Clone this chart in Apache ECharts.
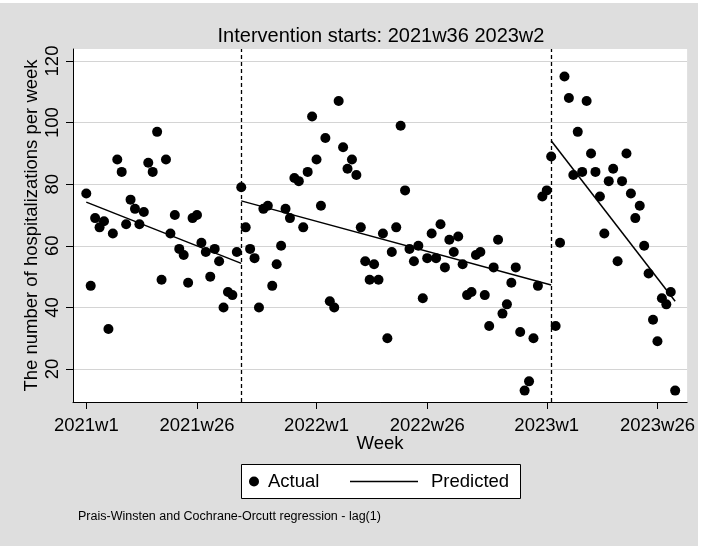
<!DOCTYPE html>
<html>
<head>
<meta charset="utf-8">
<script src="https://cdn.jsdelivr.net/npm/echarts@6/dist/echarts.min.js"></script>
<style>
  html, body { margin: 0; padding: 0; background: #ffffff; }
  #chart { position: absolute; left: 0; top: 3px; width: 698px; height: 543px; background: #dedede; }
</style>
</head>
<body>
<div id="chart"></div>
<script>
// weekly counts, index 0 = 2021w1 (Stata weeks: 52 per year)
const actual = [
  77, 47, 69, 66, 68, 33, 64, 88, 84, 67, 75, 72, 67, 71, 87, 84, 97, 49, 88, 64,
  70, 59, 57, 48, 69, 70, 61, 58, 50, 59, 55, 40, 45, 44, 58,
  79, 66, 59, 56, 40, 72, 73, 47, 54, 60, 72, 69, 82, 81, 66, 84, 102, 88, 73, 95,
  42, 40, 107, 92, 85, 88, 83, 66, 55, 49, 54, 49, 64, 30, 58, 66, 99, 78, 59, 55,
  60, 43, 56, 64, 56, 67, 53, 62, 58, 63, 54, 44, 45, 57, 58, 44, 34, 53, 62, 38,
  41, 48, 53, 32, 13, 16, 30, 47, 76, 78,
  89, 34, 61, 115, 108, 83, 97, 84, 107, 90, 84, 76, 64, 81, 85, 55, 81, 90, 77, 69,
  73, 60, 51, 36, 29, 43, 41, 45, 13
];

// fitted segments (start/end week index and value)
const predT1 = [0, 35],    predY1 = [74.2, 54.3];
const predT2 = [35, 105],  predY2 = [74.6, 47.3];
const predT3 = [105, 133], predY3 = [94.1, 42.0];

const interventions = [35, 105];              // 2021w36, 2023w2
const xTicks = [0, 25, 52, 77, 104, 129];     // 2021w1 ... 2023w26
const yTicks = [20, 40, 60, 80, 100, 120];

const FONT = 'Liberation Sans, Arial, Helvetica, sans-serif';

function weekLabel(t) {
  return (2021 + Math.floor(t / 52)) + 'w' + (t % 52 + 1);
}
function pairs(ts, ys) { return ts.map((t, i) => [t, ys[i]]); }

const chart = echarts.init(document.getElementById('chart'));

const predStyle = {
  type: 'line', name: 'Predicted', symbol: 'none', silent: true, z: 3,
  lineStyle: { color: '#000', width: 1.5 }, itemStyle: { color: '#000' }
};

chart.setOption({
  animation: false,
  backgroundColor: '#dedede',
  title: [
    {
      text: 'Intervention starts: 2021w36 2023w2',
      left: 381, top: 23, padding: 0, textAlign: 'center',
      textStyle: { fontFamily: FONT, fontSize: 20, fontWeight: 'normal', color: '#000' }
    },
    {
      text: 'Prais-Winsten and Cochrane-Orcutt regression - lag(1)',
      left: 78, top: 507, padding: 0,
      textStyle: { fontFamily: FONT, fontSize: 12.5, fontWeight: 'normal', color: '#000' }
    }
  ],
  graphic: [{
    type: 'rect', z: 1,
    shape: { x: 241.5, y: 461.5, width: 279, height: 34 },
    style: { fill: '#fff', stroke: '#000', lineWidth: 1 }
  }],
  legend: [
    {
      data: ['Actual'], left: 249, top: 469, padding: 0, z: 10,
      itemWidth: 10, itemHeight: 10,
      itemStyle: { opacity: 1 },
      textStyle: { fontFamily: FONT, fontSize: 18.5, color: '#000', padding: [0, 0, 0, 4] }
    },
    {
      data: [{ name: 'Predicted', icon: 'rect' }], left: 350, top: 469, padding: 0, z: 10,
      itemWidth: 68, itemHeight: 1.5,
      textStyle: { fontFamily: FONT, fontSize: 18.5, color: '#000', padding: [0, 0, 0, 8] }
    }
  ],
  grid: { left: 73, top: 46, width: 616, height: 353, backgroundColor: '#fff', show: true, borderWidth: 0 },
  xAxis: {
    type: 'value', min: -3, max: 135.7,
    name: 'Week', nameLocation: 'middle', nameGap: 32, nameMoveOverlap: false,
    nameTextStyle: { fontFamily: FONT, fontSize: 18.5, color: '#000' },
    axisLine: { onZero: false, lineStyle: { color: '#000', width: 1 } },
    axisTick: { customValues: xTicks, length: 7, lineStyle: { color: '#000' } },
    axisLabel: {
      customValues: xTicks, margin: 14, formatter: v => weekLabel(v),
      fontFamily: FONT, fontSize: 18.5, color: '#000'
    },
    splitLine: { show: false }
  },
  yAxis: {
    type: 'value', min: 9.3, max: 123.9,
    name: 'The number of hospitalizations per week', nameLocation: 'middle', nameGap: 32,
    nameRotate: 90, nameMoveOverlap: false,
    nameTextStyle: { fontFamily: FONT, fontSize: 18.5, color: '#000' },
    axisLine: { show: true, onZero: false, lineStyle: { color: '#000', width: 1 } },
    axisTick: { show: true, customValues: yTicks, length: 7, lineStyle: { color: '#000' } },
    axisLabel: {
      customValues: yTicks, rotate: 90, margin: 11,
      fontFamily: FONT, fontSize: 18.5, color: '#000'
    },
    splitLine: { show: true, lineStyle: { color: '#d4d4d4', width: 1 } }
  },
  series: [
    {
      type: 'scatter', name: 'Actual', z: 2,
      data: actual.map((v, t) => [t, v]),
      symbol: 'circle', symbolSize: 10,
      itemStyle: { color: '#000', opacity: 1 },
      markLine: {
        silent: true, symbol: 'none', label: { show: false },
        lineStyle: { color: '#000', type: [4, 3], width: 1.3 },
        data: interventions.map(t => ({ xAxis: t }))
      }
    },
    Object.assign({ data: pairs(predT1, predY1) }, predStyle),
    Object.assign({ data: pairs(predT2, predY2) }, predStyle),
    Object.assign({ data: pairs(predT3, predY3) }, predStyle)
  ]
});
</script>
</body>
</html>
